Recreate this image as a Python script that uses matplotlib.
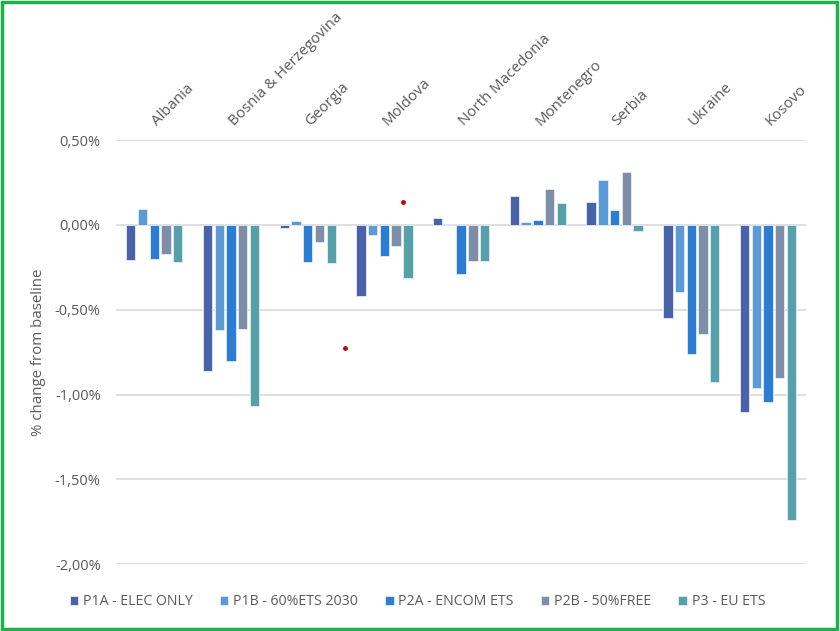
import matplotlib
matplotlib.use('Agg')
import matplotlib.pyplot as plt
import matplotlib.patches as patches
from matplotlib.ticker import FuncFormatter, MultipleLocator
import numpy as np

plt.rcParams['font.family'] = ['Open Sans', 'DejaVu Sans']

# Countries and scenario results (% change from baseline)
countries = ['Albania', 'Bosnia & Herzegovina', 'Georgia', 'Moldova', 'North Macedonia',
             'Montenegro', 'Serbia', 'Ukraine', 'Kosovo']
scenarios = ['P1A - ELEC ONLY', 'P1B - 60%ETS 2030', 'P2A - ENCOM ETS',
             'P2B - 50%FREE', 'P3 - EU ETS']

p1a = [-0.206, -0.863, -0.018, -0.420, 0.039, 0.168, 0.137, -0.551, -1.102]
p1b = [0.092, -0.618, 0.024, -0.061, 0.008, 0.019, 0.265, -0.396, -0.963]
p2a = [-0.202, -0.804, -0.216, -0.182, -0.288, 0.029, 0.090, -0.763, -1.043]
p2b = [-0.171, -0.612, -0.102, -0.122, -0.212, 0.209, 0.312, -0.643, -0.902]
p3 = [-0.216, -1.067, -0.226, -0.312, -0.212, 0.127, -0.035, -0.924, -1.739]

# stray red dots in the original picture (category units, %)
dots_x = [2.49, 3.24]
dots_y = [-0.726, 0.135]

colors = ['#4A62A8', '#5B9BD5', '#2B7CD3', '#7F8EA8', '#56A0A9']
series = [p1a, p1b, p2a, p2b, p3]

fig = plt.figure(figsize=(8.4, 6.31), dpi=100)
ax = fig.add_axes([0.138, 0.106, 0.822, 0.672])

x = np.arange(len(countries))
slot = 0.153
width = 0.122
for i, (vals, col, name) in enumerate(zip(series, colors, scenarios)):
    ax.bar(x + (i - 2) * slot, vals, width, color=col, label=name,
           edgecolor='#e3ecf6', linewidth=0.6, zorder=3)

ax.scatter(dots_x, dots_y, s=6, color='#C00000', zorder=4)

ax.set_xlim(-0.5, len(countries) - 0.5)
ax.set_ylim(-2.0, 0.5)
ax.yaxis.set_major_locator(MultipleLocator(0.5))
ax.yaxis.set_major_formatter(FuncFormatter(lambda v, p: f'{v:.2f}%'.replace('.', ',')))
ax.grid(axis='y', color='#D9D9D9', linewidth=1.2, zorder=0)
ax.set_xticks([])
ax.tick_params(axis='y', length=0, pad=11, labelsize=10.5, labelcolor='#595959')
for s in ax.spines.values():
    s.set_visible(False)

ax.set_ylabel('% change from baseline', fontsize=10.8, color='#595959', labelpad=6)

# category labels above the plot, rotated
for xi, name in zip(x, countries):
    ax.annotate(name, xy=(xi, 1.0), xycoords=ax.get_xaxis_transform(),
                xytext=(4, 8), textcoords='offset points',
                rotation=45, rotation_mode='anchor', ha='left', va='bottom',
                fontsize=10.8, color='#595959')

fig.legend(loc='center', bbox_to_anchor=(0.497, 0.046), ncol=5, frameon=False,
           fontsize=10.2, handlelength=0.6, handleheight=0.6, handletextpad=0.35,
           columnspacing=1.9, labelcolor='#595959')

# green frame around the figure
frame = patches.Rectangle((0.002, 0.003), 0.995, 0.994, transform=fig.transFigure,
                          fill=False, edgecolor='#1DB04B', linewidth=2.5)
fig.patches.append(frame)

fig.savefig('out.png', dpi=100, facecolor='white')
